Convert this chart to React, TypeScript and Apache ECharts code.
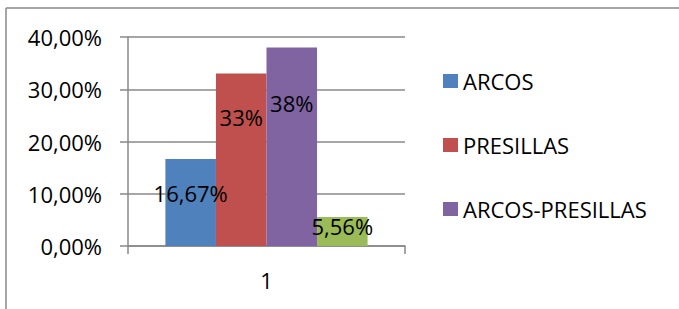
import React, { useEffect, useRef } from "react";
import * as echarts from "echarts";

const categories = ["1"];
const seriesNames = ["ARCOS", "PRESILLAS", "ARCOS-PRESILLAS", "OTROS"];
const arcos = [16.67];
const presillas = [33];
const arcosPresillas = [38];
const otros = [5.56];
const legendNames = ["ARCOS", "PRESILLAS", "ARCOS-PRESILLAS"];
const yTicks = [0, 10, 20, 30, 40];

const colors = ["#4F81BD", "#C0504D", "#8064A2", "#9BBB59"];
const labelOffsets = [34, 43, 56, 9];
const FONT = "Open Sans";
const FS = 22;

const fmt = (v: number) =>
  (Number.isInteger(v) ? String(v) : v.toFixed(2).replace(".", ",")) + "%";

export default function App() {
  const ref = useRef<HTMLDivElement>(null);
  useEffect(() => {
    if (!ref.current) return;
    const chart = echarts.init(ref.current, null, { renderer: "svg" });
    const data = [arcos, presillas, arcosPresillas, otros];
    chart.setOption({
      animation: false,
      textStyle: { fontFamily: FONT },
      graphic: [
        {
          type: "line",
          shape: { x1: 6, y1: 8, x2: 679, y2: 8 },
          style: { stroke: "#888888", lineWidth: 1.5 },
          silent: true,
        },
        {
          type: "line",
          shape: { x1: 6, y1: 8, x2: 6, y2: 309 },
          style: { stroke: "#888888", lineWidth: 1.5 },
          silent: true,
        },
      ],
      legend: {
        data: legendNames,
        orient: "vertical",
        left: 438,
        top: 63,
        itemWidth: 15,
        itemHeight: 14,
        itemGap: 38,
        icon: "rect",
        textStyle: {
          fontFamily: FONT,
          fontSize: FS,
          color: "#000",
          lineHeight: 26,
        },
      },
      grid: { left: 128, right: 274, top: 37, bottom: 63 },
      xAxis: {
        type: "category",
        data: categories,
        axisLine: { lineStyle: { color: "#888888", width: 1.5 } },
        axisTick: { show: true, length: 8, lineStyle: { color: "#888888", width: 1.5 } },
        axisLabel: { fontFamily: FONT, fontSize: FS, color: "#000", margin: 23 },
      },
      yAxis: {
        type: "value",
        min: yTicks[0],
        max: yTicks[yTicks.length - 1],
        interval: 10,
        axisLine: { show: true, lineStyle: { color: "#888888", width: 1.5 } },
        axisTick: { show: true, length: 8, lineStyle: { color: "#888888", width: 1.5 } },
        splitLine: { lineStyle: { color: "#888888", width: 1.5 } },
        axisLabel: {
          fontFamily: FONT,
          fontSize: FS,
          color: "#000",
          margin: 26,
          formatter: (v: number) => v.toFixed(2).replace(".", ",") + "%",
        },
      },
      series: seriesNames.map((name, i) => ({
        name,
        type: "bar",
        data: data[i],
        barGap: "0%",
        barCategoryGap: "27%",
        itemStyle: { color: colors[i] },
        label: {
          show: true,
          position: ["50%", labelOffsets[i]],
          align: "center",
          verticalAlign: "middle",
          fontFamily: FONT,
          fontSize: FS,
          color: "#000",
          formatter: (p: any) => fmt(p.value),
        },
      })),
    });
    return () => chart.dispose();
  }, []);
  return (
    <div
      ref={ref}
      style={{ position: "fixed", left: 0, top: 0, width: 679, height: 309, background: "#fff" }}
    />
  );
}
